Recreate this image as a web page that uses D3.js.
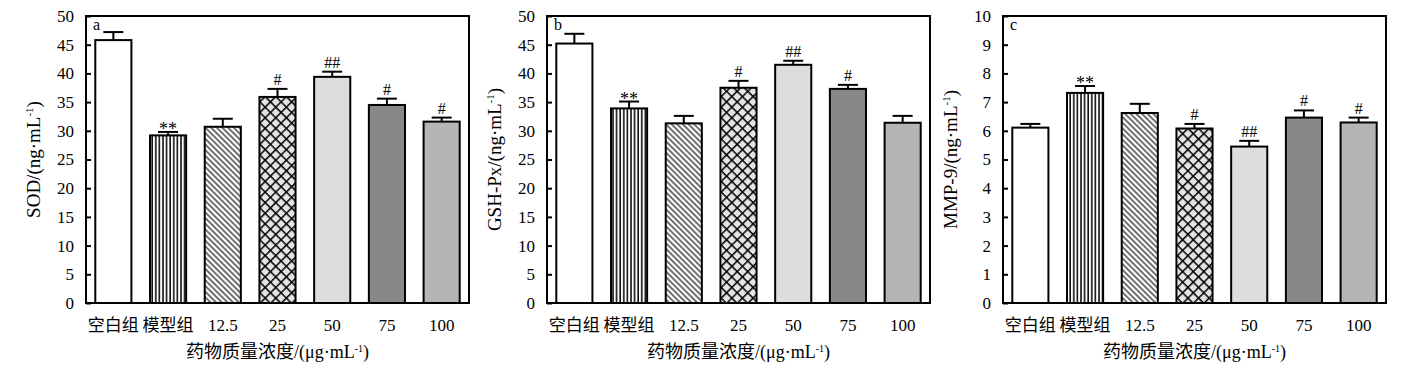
<!DOCTYPE html>
<html>
<head>
<meta charset="utf-8">
<script src="https://cdn.jsdelivr.net/npm/d3@7"></script>
<style>
  body { margin: 0; background: #fff; }
  text { font-family: "Liberation Serif", "Noto Sans CJK SC", serif; fill: #000; }
</style>
</head>
<body>
<div id="chart"></div>
<script>
// categories (x axis)
var groups = ["空白组", "模型组", "12.5", "25", "50", "75", "100"];

// panel a: SOD
var sod = [45.8, 29.2, 30.7, 35.9, 39.4, 34.5, 31.6];
var sodErr = [1.4, 0.6, 1.4, 1.4, 0.9, 1.1, 0.7];
var sodMark = ["", "**", "", "#", "##", "#", "#"];

// panel b: GSH-Px
var gsh = [45.2, 33.9, 31.3, 37.5, 41.5, 37.3, 31.4];
var gshErr = [1.7, 1.2, 1.3, 1.2, 0.7, 0.7, 1.2];
var gshMark = ["", "**", "", "#", "##", "#", ""];

// panel c: MMP-9
var mmp = [6.11, 7.32, 6.62, 6.08, 5.45, 6.46, 6.29];
var mmpErr = [0.13, 0.24, 0.32, 0.16, 0.20, 0.25, 0.17];
var mmpMark = ["", "**", "", "#", "##", "#", "#"];

var yTicksA = [0, 5, 10, 15, 20, 25, 30, 35, 40, 45, 50];
var yTicksC = [0, 1, 2, 3, 4, 5, 6, 7, 8, 9, 10];

var panels = [
  {letter: "a", label: "SOD/(ng·mL", vals: sod, err: sodErr, mark: sodMark, max: 50, ticks: yTicksA, left: 86, right: 469},
  {letter: "b", label: "GSH-Px/(ng·mL", vals: gsh, err: gshErr, mark: gshMark, max: 50, ticks: yTicksA, left: 547, right: 930},
  {letter: "c", label: "MMP-9/(ng·mL", vals: mmp, err: mmpErr, mark: mmpMark, max: 10, ticks: yTicksC, left: 1003, right: 1386}
];

var plotTop = 16, plotBottom = 303;
var fills = ["#fff", "url(#vert)", "url(#diag)", "url(#cross)", "#dcdedd", "#888888", "#b5b5b5"];

var svg = d3.select("#chart").append("svg")
  .attr("width", 1412)
  .attr("height", 372);

// hatch patterns
var defs = svg.append("defs");
var p1 = defs.append("pattern").attr("id", "vert").attr("patternUnits", "userSpaceOnUse")
  .attr("width", 3.6).attr("height", 10);
p1.append("rect").attr("width", 3.6).attr("height", 10).attr("fill", "#fff");
p1.append("line").attr("x1", 1).attr("x2", 1).attr("y1", 0).attr("y2", 10)
  .attr("stroke", "#000").attr("stroke-width", 1.5);

// "\\\" lines
var p2 = defs.append("pattern").attr("id", "diag").attr("patternUnits", "userSpaceOnUse")
  .attr("width", 4).attr("height", 4).attr("patternTransform", "rotate(45)");
p2.append("rect").attr("width", 4).attr("height", 4).attr("fill", "#fff");
p2.append("line").attr("x1", 0).attr("x2", 4).attr("y1", 1).attr("y2", 1)
  .attr("stroke", "#333").attr("stroke-width", 1.4);

var p3 = defs.append("pattern").attr("id", "cross").attr("patternUnits", "userSpaceOnUse")
  .attr("width", 7.5).attr("height", 7.5).attr("patternTransform", "rotate(45)");
p3.append("rect").attr("width", 7.5).attr("height", 7.5).attr("fill", "#e4e4e4");
p3.append("line").attr("x1", 0).attr("x2", 7.5).attr("y1", 0.7).attr("y2", 0.7)
  .attr("stroke", "#000").attr("stroke-width", 1.6);
p3.append("line").attr("x1", 0.7).attr("x2", 0.7).attr("y1", 0).attr("y2", 7.5)
  .attr("stroke", "#000").attr("stroke-width", 1.6);

panels.forEach(function(p) {
  var x = d3.scaleBand().domain(groups).range([p.left, p.right])
    .paddingInner(0.34).paddingOuter(0.17);
  var y = d3.scaleLinear().domain([0, p.max]).range([plotBottom, plotTop]);
  var g = svg.append("g");

  // bars
  g.selectAll("rect.bar").data(p.vals).enter().append("rect")
    .attr("class", "bar")
    .attr("x", function(d, i) { return x(groups[i]); })
    .attr("y", function(d) { return y(d); })
    .attr("width", x.bandwidth())
    .attr("height", function(d) { return plotBottom - y(d); })
    .attr("fill", function(d, i) { return fills[i]; })
    .attr("stroke", "#000")
    .attr("stroke-width", 2);

  // error bars
  var cx = function(i) { return x(groups[i]) + x.bandwidth() / 2; };
  g.selectAll("line.err").data(p.vals).enter().append("line")
    .attr("x1", function(d, i) { return cx(i); })
    .attr("x2", function(d, i) { return cx(i); })
    .attr("y1", function(d) { return y(d); })
    .attr("y2", function(d, i) { return y(d + p.err[i]); })
    .attr("stroke", "#000").attr("stroke-width", 2);
  g.selectAll("line.cap").data(p.vals).enter().append("line")
    .attr("x1", function(d, i) { return cx(i) - 10; })
    .attr("x2", function(d, i) { return cx(i) + 10; })
    .attr("y1", function(d, i) { return y(d + p.err[i]); })
    .attr("y2", function(d, i) { return y(d + p.err[i]); })
    .attr("stroke", "#000").attr("stroke-width", 2);

  // significance marks
  g.selectAll("text.mark").data(p.vals).enter().append("text")
    .attr("x", function(d, i) { return cx(i); })
    .attr("y", function(d, i) { return y(d + p.err[i]) - (p.mark[i] == "**" ? -3 : 4); })
    .attr("text-anchor", "middle")
    .style("font-size", function(d, i) { return p.mark[i] == "**" ? "18px" : "16px"; })
    .text(function(d, i) { return p.mark[i]; });

  // frame
  g.append("rect")
    .attr("x", p.left).attr("y", plotTop)
    .attr("width", p.right - p.left).attr("height", plotBottom - plotTop)
    .attr("fill", "none").attr("stroke", "#000").attr("stroke-width", 2);

  // y axis, ticks pointing inward
  var yAxis = d3.axisLeft(y).tickValues(p.ticks).tickSize(-5).tickPadding(12);
  var ya = g.append("g").attr("transform", "translate(" + p.left + ",0)").call(yAxis);
  ya.select(".domain").remove();
  ya.selectAll("line").attr("stroke", "#000").attr("stroke-width", 2);
  ya.selectAll("text").style("font-size", "17px").style("font-family", "Liberation Serif");

  // x labels
  var xAxis = d3.axisBottom(x).tickSize(0).tickPadding(16);
  var xa = g.append("g").attr("transform", "translate(0," + plotBottom + ")").call(xAxis);
  xa.select(".domain").remove();
  xa.selectAll("text").style("font-size", "17px").style("font-family", "Liberation Serif, Noto Sans CJK SC");

  // panel letter
  g.append("text").attr("x", p.left + 7).attr("y", plotTop + 14)
    .style("font-size", "16px").text(p.letter);

  // x title
  var xt = g.append("text").attr("x", (p.left + p.right) / 2).attr("y", 358)
    .attr("text-anchor", "middle").style("font-size", "18px");
  xt.append("tspan").text("药物质量浓度/(μg·mL");
  xt.append("tspan").attr("dy", -6).style("font-size", "10px").text("-1");
  xt.append("tspan").attr("dy", 6).text(")");

  // y title
  var yt = g.append("text")
    .attr("transform", "translate(" + (p.left - 46) + "," + ((plotTop + plotBottom) / 2) + ") rotate(-90)")
    .attr("text-anchor", "middle").style("font-size", "19px");
  yt.append("tspan").text(p.label);
  yt.append("tspan").attr("dy", -7).style("font-size", "11px").text("-1");
  yt.append("tspan").attr("dy", 7).text(")");
});
</script>
</body>
</html>
